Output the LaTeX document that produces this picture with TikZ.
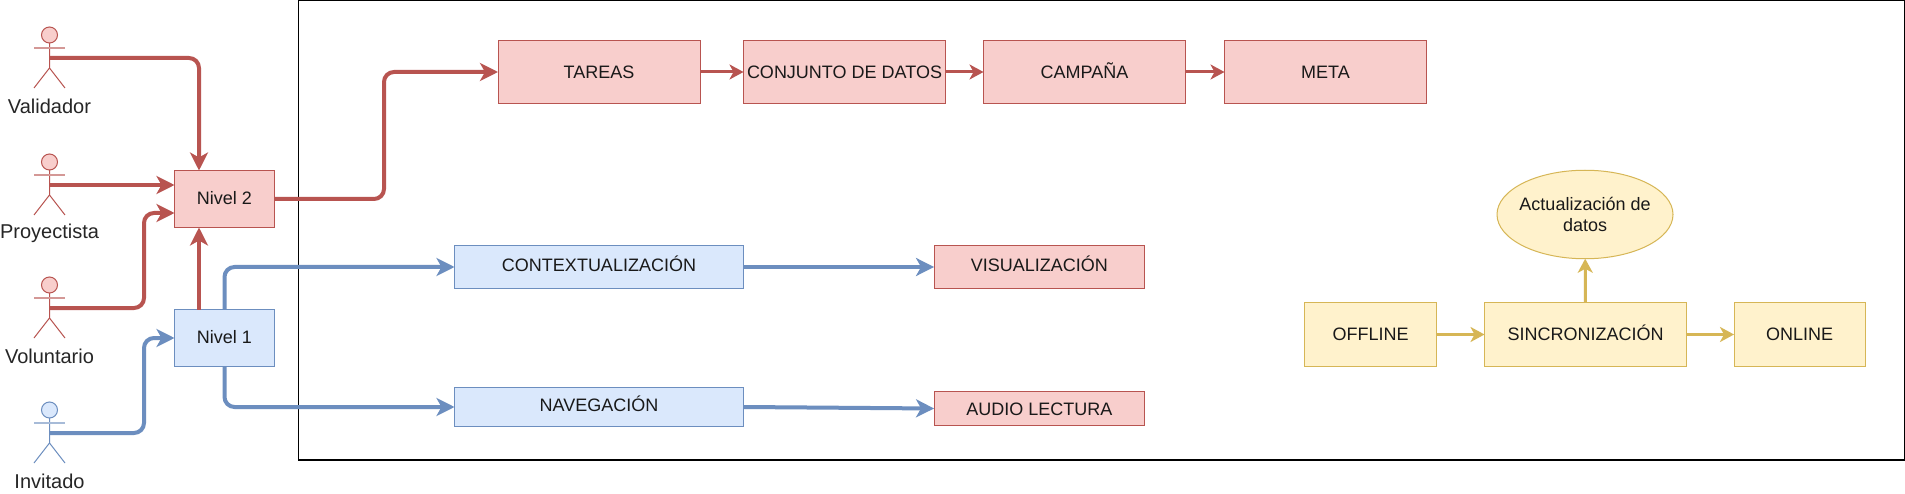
\documentclass[tikz,border=0pt]{standalone}
\usepackage{fontspec}
\setmainfont{Liberation Sans}
\usetikzlibrary{arrows.meta,shapes.geometric,calc}
\definecolor{rf}{HTML}{F8CECC}\definecolor{rs}{HTML}{B85450}
\definecolor{bf}{HTML}{DAE8FC}\definecolor{bs}{HTML}{6C8EBF}
\definecolor{yf}{HTML}{FFF2CC}\definecolor{ys}{HTML}{D6B656}
\tikzset{
 box/.style={rectangle,draw,line width=1pt,inner sep=0pt,outer sep=0pt,text=black!90,text height=13pt,text depth=0pt,font=\fontsize{18}{21}\selectfont},
 redbox/.style={box,draw=rs,fill=rf},
 bluebox/.style={box,draw=bs,fill=bf},
 yelbox/.style={box,draw=ys,fill=yf},
 lifted/.style={text depth=#1},
 lab/.style={inner sep=0pt,text=black!85,font=\fontsize{20}{24}\selectfont},
 conn/.style={line width=4pt,rounded corners=10pt,-{Stealth[length=18pt,width=18pt,inset=5pt]}},
 thin conn/.style={line width=3pt,-{Stealth[length=14pt,width=15pt,inset=4pt]}},
 redc/.style={conn,draw=rs},
 bluec/.style={conn,draw=bs},
 redt/.style={thin conn,draw=rs},
 yelc/.style={thin conn,draw=ys},
}
\newcommand{\stickman}[6]{% name, x, head y, fill, stroke, label
 \node[circle,draw=#5,fill=#4,line width=1pt,minimum size=16pt,inner sep=0pt,outer sep=0pt] (#1head) at (#2,#3) {};
 \draw[#5,line width=1pt] (#1head.south) -- ++(0,25) -- ++(-15.5,20) ++(15.5,-20) -- ++(15.5,20);
 \draw[#5!60,line width=1.4pt] ($(#1head.south)+(-15.5,5)$) -- ++(31,0);
 \coordinate (#1) at ($(#1head.south)+(0,15)$);
 \node[lab] (#1lab) at (#2,#3+71.5) {#6};
}
\begin{document}
\begin{tikzpicture}[x=1pt,y=-1pt]
\useasboundingbox (0,0) rectangle (1905,494);
\fill[white] (0,0) rectangle (1905,495);
\node[draw=black,line width=1.2pt,fill=white,inner sep=0pt,outer sep=0pt,minimum width=1606pt,minimum height=459.5pt] (frame) at (1101.5,230.2) {};

\stickman{va}{49.5}{35}{rf}{rs}{Validador}
\stickman{pr}{49.5}{162}{rf}{rs}{Proyectista}
\stickman{vo}{49.5}{285}{rf}{rs}{Voluntario}
\stickman{in}{49.5}{410}{bf}{bs}{Invitado}

\node[redbox,lifted=2pt,minimum width=100pt,minimum height=57pt] (n2) at (224.5,199) {Nivel 2};
\node[bluebox,lifted=2pt,minimum width=100pt,minimum height=57pt] (n1) at (224.5,338) {Nivel 1};

\node[redbox,minimum width=202pt,minimum height=63pt] (ta) at (599,72) {TAREAS};
\node[redbox,minimum width=202pt,minimum height=63pt] (co) at (844.5,72) {CONJUNTO DE DATOS};
\node[redbox,minimum width=202pt,minimum height=63pt] (ca) at (1084.5,72) {CAMPAÑA};
\node[redbox,minimum width=202pt,minimum height=63pt] (me) at (1325.5,72) {META};

\node[bluebox,lifted=3pt,minimum width=289pt,minimum height=43pt] (cx) at (599,267) {CONTEXTUALIZACIÓN};
\node[bluebox,lifted=4pt,minimum width=289pt,minimum height=38.5pt] (na) at (599,407) {NAVEGACIÓN};
\node[redbox,lifted=3pt,minimum width=210.5pt,minimum height=43pt] (vi) at (1039.3,267) {VISUALIZACIÓN};
\node[redbox,minimum width=210.5pt,minimum height=34pt] (au) at (1039.3,408.5) {AUDIO LECTURA};

\node[yelbox,lifted=2pt,minimum width=132pt,minimum height=64pt] (of) at (1370.5,334.5) {OFFLINE};
\node[yelbox,lifted=2pt,minimum width=202pt,minimum height=64pt] (si) at (1585.5,334.5) {SINCRONIZACIÓN};
\node[yelbox,lifted=2pt,minimum width=131pt,minimum height=64pt] (on) at (1799.5,334.5) {ONLINE};
\node[ellipse,draw=ys,fill=yf,line width=1pt,inner sep=0pt,outer sep=0pt,minimum width=176pt,minimum height=88.5pt] (ac) at (1585,214.5) {};
\node[inner sep=0pt,align=center,text=black!90,font=\fontsize{18}{20.5}\selectfont] (actext) at (ac) {Actualización de\\datos};

% left side connectors
\coordinate (n2t) at ($(n2.north)+(-25.5,0)$);
\coordinate (n2b) at ($(n2.south)+(-25.5,0)$);
\coordinate (n1t) at ($(n1.north)+(-25.5,0)$);
\coordinate (n2l1) at ($(n2.west)+(0,-14)$);
\coordinate (n2l2) at ($(n2.west)+(0,14)$);
\draw[redc] (va) -| (n2t);
\draw[redc] (pr) -- (pr -| n2l1);
\draw[redc] (vo) -- (144,308) -- (144,213) -- (n2l2);
\draw[redc,rounded corners=0pt] (n1t) -- (n2b);
\draw[bluec] (in) -- (144,433) -- (144,338) -- (n1.west);
\draw[bluec] (n1.north) |- (cx.west);
\draw[bluec] (n1.south) |- (na.west);
\draw[redc] (n2.east) -- (384,199) -- (384,72) -- (ta.west);

\draw[bluec,rounded corners=0pt] (cx.east) -- (vi.west);
\draw[bluec,rounded corners=0pt] (na.east) -- (au.west);

\draw[redt] (ta) -- (co);
\draw[redt] (co) -- (ca);
\draw[redt] (ca) -- (me);

\draw[yelc] (of) -- (si);
\draw[yelc] (si) -- (on);
\draw[yelc] (si) -- (ac);
\end{tikzpicture}
\end{document}
